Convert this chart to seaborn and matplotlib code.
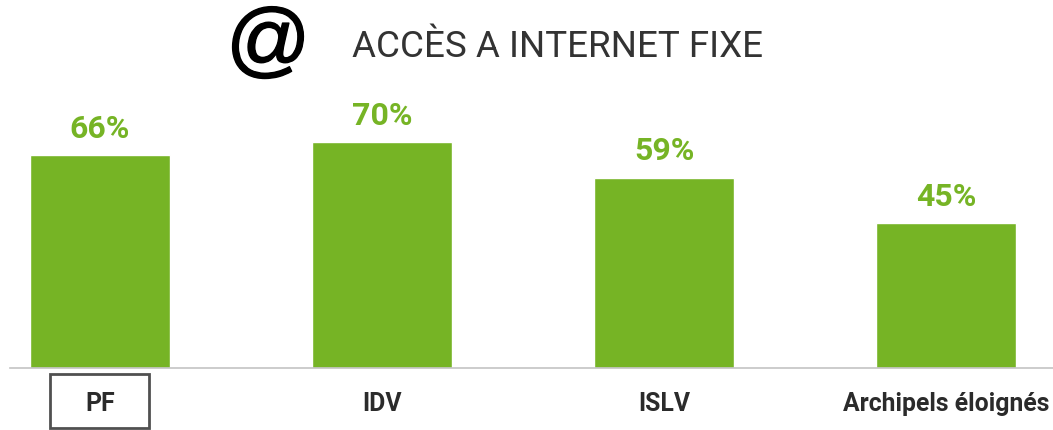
import matplotlib
matplotlib.use("Agg")
import matplotlib.pyplot as plt
from matplotlib.patches import Rectangle
import matplotlib.patheffects as pe
import seaborn as sns
import pandas as pd

categories = ["PF", "IDV", "ISLV", "Archipels éloignés"]
values = [66, 70, 59, 45]
value_labels = ["66%", "70%", "59%", "45%"]
title = "ACCÈS A INTERNET FIXE"
GREEN = "#76B425"

sns.set_theme(style="white")
plt.rcParams['font.family'] = ['Roboto', 'Liberation Sans', 'DejaVu Sans']

W, H = 1053, 430
fig = plt.figure(figsize=(W/100, H/100), dpi=100)
fig.patch.set_facecolor("white")
ax = fig.add_axes([10/W, 1-368/H, 1043/W, 368/H])
df = pd.DataFrame({"cat": categories, "val": values})
sns.barplot(data=df, x="cat", y="val", color=GREEN, saturation=1, width=0.497, ax=ax)
ax.set_ylim(0, 368/(226/70))
ax.set_xlim(-90/282, 953/282)
ax.set_xlabel(""); ax.set_ylabel("")
ax.set_yticks([])
ax.set_xticks(range(4))
ax.set_xticklabels(categories, fontsize=17.8, fontweight="bold", color="#2b2b2b")
ax.tick_params(axis="x", length=0, pad=17)
for s in ["top", "left", "right"]:
    ax.spines[s].set_visible(False)
ax.spines["bottom"].set_color("#c4c4c4")
ax.spines["bottom"].set_linewidth(1.2)
for i, (v, l) in enumerate(zip(values, value_labels)):
    ax.annotate(l, (i, v), xytext=(0, 8), textcoords="offset points", ha="center", va="bottom",
                color=GREEN, fontsize=23, fontweight="bold")
fig.add_artist(Rectangle((50/W, 1-428/H), 99/W, 54/H, transform=fig.transFigure, fill=False,
                         edgecolor="#505050", linewidth=2))
fig.text(352/W, 1-47/H, title, fontsize=26.5, color="#333333", va="center", ha="left")
fig.text(267/W, 1-45/H, "@", fontsize=60, color="black", va="center", ha="center",
         family="Liberation Sans", style="italic",
         path_effects=[pe.withStroke(linewidth=1, foreground="black")])
fig.savefig("out.png", dpi=100)
